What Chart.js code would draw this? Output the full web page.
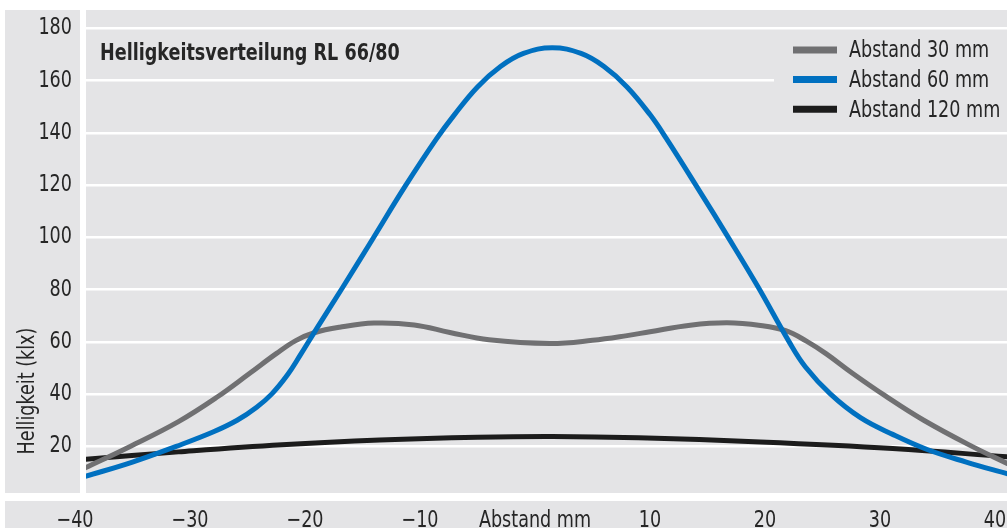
<!DOCTYPE html>
<html><head><meta charset="utf-8">
<script src="https://cdn.jsdelivr.net/npm/chart.js@4.4.0/dist/chart.umd.min.js"></script>
<style>html,body{margin:0;padding:0;background:#fff;}canvas{display:block;}</style>
</head><body>
<canvas id="c" width="1007" height="528" style="width:1007px;height:528px"></canvas>
<script>
// ---- data ----
const chartTitle = 'Helligkeitsverteilung RL 66/80';
const yAxisTitle = 'Helligkeit (klx)';
const seriesNames = ['Abstand 30 mm', 'Abstand 60 mm', 'Abstand 120 mm'];

const x30 = [-39.1, -35.2, -31, -27.6, -24.8, -22.5, -20.8, -19.2, -17, -14, -10.5, -7.4, -4, 1.3, 5, 8, 10, 13.5, 16.7, 19.6, 21.8, 23.6, 25.3, 27.6, 30.4, 33.8, 38, 41.1];
const y30 = [11.8, 20, 29.5, 39, 48, 55.5, 60.5, 63.5, 65.6, 67.2, 66.5, 63.6, 60.8, 59.4, 60.6, 62.4, 63.9, 66.4, 67.3, 66.3, 64.3, 60.3, 55.5, 48, 39.5, 30, 20, 13.4];

const x60 = [-39.1, -35, -31.2, -28, -25.9, -24.2, -22.9, -21.5, -20.4, -19, -16.7, -14.1, -11.3, -8.6, -7, -5, -3, -1, 1.5, 4, 6, 8, 10, 11.4, 14.2, 16.8, 19.4, 22.1, 23.5, 25.7, 28.3, 31.1, 34.1, 37.5, 41.1];
const y60 = [8.5, 14, 20, 25.5, 30, 35, 40, 47.5, 55, 65, 81, 99.5, 119.5, 137.5, 147, 157.6, 165.4, 170.4, 172.6, 170.4, 165.4, 157.6, 147, 138, 118.5, 100, 81, 60, 50.5, 40, 31, 24.6, 18.8, 14, 9.5];

const x120 = [-39.1, -31, -22, -13.5, -5, 1.5, 9, 19.6, 31.1, 41.1];
const y120 = [15.1, 17.9, 20.6, 22.4, 23.5, 23.8, 23.3, 21.7, 19.2, 16];

const xTicks = [-40, -30, -20, -10, 0, 10, 20, 30, 40];
const xTickLabels = ['\u221240', '\u221230', '\u221220', '\u221210', 'Abstand mm', '10', '20', '30', '40'];
const yTicks = [20, 40, 60, 80, 100, 120, 140, 160, 180];
const xRange = [-39.04, 41.04];
const yRange = [2.16, 187.04];

// ---- style ----
const FONT = "'Liberation Sans Narrow', 'DejaVu Sans Condensed', 'DejaVu Sans', sans-serif";
const FS = 23;
const SQUEEZE = 0.85;
const BG = '#e4e4e6';
const TEXT = '#262626';
const colors = ['#707072', '#0070c0', '#1c1c1c'];

const pts = (xs, ys) => xs.map((x, i) => ({x: x, y: ys[i]}));

// narrow the glyphs horizontally (the original uses a condensed typeface)
const condense = {
  id: 'condense',
  beforeInit(chart) {
    const ctx = chart.ctx;
    const orig = ctx.fillText;
    ctx.fillText = function (text, x, y, maxWidth) {
      const w = this.measureText(text).width * SQUEEZE;
      const mw = (maxWidth !== undefined && maxWidth !== null) ? Math.min(maxWidth, w) : w;
      orig.call(this, text, x, y, mw);
    };
  }
};

const panels = {
  id: 'panels',
  beforeDraw(chart) {
    const {ctx, chartArea: a, width, height} = chart;
    ctx.save();
    ctx.fillStyle = '#ffffff';
    ctx.fillRect(0, 0, width, height);
    ctx.fillStyle = BG;
    ctx.fillRect(5, a.top, a.left - 11, a.bottom - a.top);
    ctx.fillRect(a.left, a.top, a.right - a.left, a.bottom - a.top);
    ctx.fillRect(5, a.bottom + 8, width - 5, height - a.bottom - 8);
    ctx.restore();
  },
  beforeDatasetsDraw(chart) {
    const {ctx, chartArea: a} = chart;
    ctx.save();
    // legend box
    ctx.fillStyle = BG;
    ctx.fillRect(774, a.top + 21, a.right - 774, 94);
    ctx.fillStyle = TEXT;
    ctx.font = FS + 'px ' + FONT;
    ctx.textAlign = 'left';
    ctx.textBaseline = 'alphabetic';
    chart.data.datasets.forEach((ds, i) => {
      const yl = 50 + 29.6 * i;
      ctx.strokeStyle = ds.borderColor;
      ctx.lineWidth = 7;
      ctx.beginPath();
      ctx.moveTo(793, yl);
      ctx.lineTo(837, yl);
      ctx.stroke();
      ctx.fillText(ds.label, 849, 57 + 29.75 * i);
    });
    // title
    ctx.font = 'bold ' + FS + 'px ' + FONT;
    ctx.fillText(chartTitle, 100, 60);
    // y axis title
    ctx.font = FS + 'px ' + FONT;
    ctx.translate(34, 391);
    ctx.rotate(-Math.PI / 2);
    ctx.textAlign = 'center';
    ctx.fillText(yAxisTitle, 0, 0);
    ctx.restore();
  }
};

new Chart(document.getElementById('c'), {
  type: 'line',
  data: {
    datasets: [
      {label: seriesNames[0], data: pts(x30, y30), borderColor: colors[0], order: 2},
      {label: seriesNames[1], data: pts(x60, y60), borderColor: colors[1], order: 1},
      {label: seriesNames[2], data: pts(x120, y120), borderColor: colors[2], order: 3}
    ]
  },
  options: {
    responsive: false,
    animation: false,
    devicePixelRatio: 1,
    layout: {padding: {top: 10, left: 0, right: 0, bottom: 0}},
    elements: {
      line: {borderWidth: 5, tension: 0.4, cubicInterpolationMode: 'default', fill: false, borderCapStyle: 'round', borderJoinStyle: 'round'},
      point: {radius: 0, hoverRadius: 0}
    },
    plugins: {legend: {display: false}, tooltip: {enabled: false}, title: {display: false}},
    scales: {
      x: {
        type: 'linear', min: xRange[0], max: xRange[1],
        grid: {display: false, drawTicks: false},
        border: {display: false},
        afterBuildTicks: s => { s.ticks = xTicks.map(v => ({value: v})); },
        afterFit: s => { s.height = 35; s.paddingLeft = 0; s.paddingRight = 0; },
        ticks: {
          autoSkip: false, maxRotation: 0, minRotation: 0, padding: 14, color: TEXT,
          font: {family: FONT, size: FS},
          callback: (v) => { const i = xTicks.indexOf(v); return i >= 0 ? xTickLabels[i] : ''; }
        }
      },
      y: {
        type: 'linear', min: yRange[0], max: yRange[1],
        grid: {color: '#ffffff', lineWidth: 2.5, drawTicks: false},
        border: {display: false},
        afterBuildTicks: s => { s.ticks = yTicks.map(v => ({value: v})); },
        afterFit: s => { s.width = 86; s.paddingTop = 0; s.paddingBottom = 0; },
        ticks: {
          autoSkip: false, padding: 14, color: TEXT,
          font: {family: FONT, size: FS},
          callback: (v) => String(v)
        }
      }
    }
  },
  plugins: [condense, panels]
});
</script>
</body></html>
